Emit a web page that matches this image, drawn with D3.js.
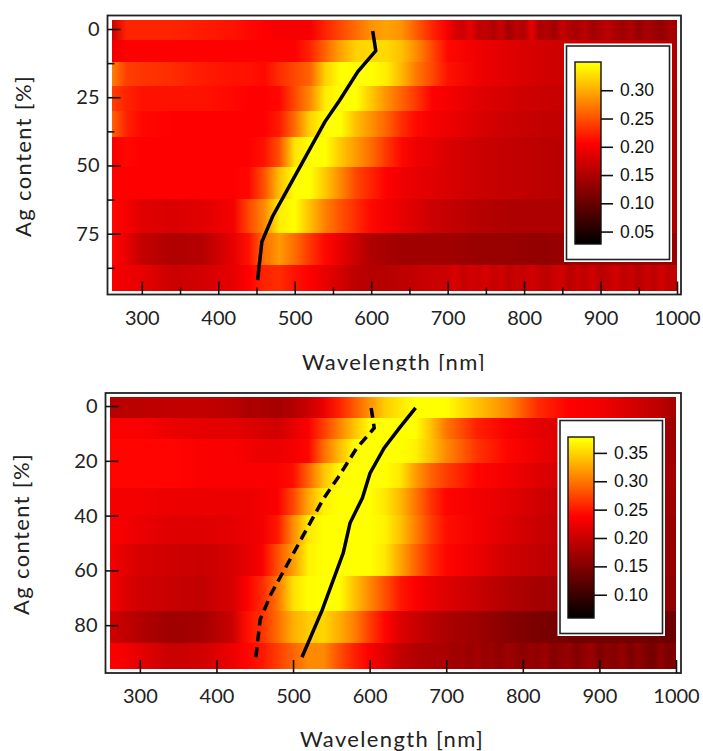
<!DOCTYPE html>
<html><head><meta charset="utf-8">
<script src="https://cdn.jsdelivr.net/npm/d3@7/dist/d3.min.js"></script>
<style>html,body{margin:0;padding:0;background:#fff}svg{display:block}</style>
</head><body><svg id="c" width="703" height="751"></svg>
<script>
const wavelengths=[261,280,300,340,380,420,440,460,480,500,520,540,560,580,600,620,640,660,680,700,740,780,820,860,900,940,980,1000];
const rowEdges=[-3.3,4.2,12.2,20.9,30,39.7,50.5,62.2,74.8,86.5,96];
const stripeWaves=[700,710,720,730,740,750,760,770,780,790,800,810,820,830,840,850,860,870,880,890,900,910,920,930,940,950,960,970,980,990,1000];

const topRows=[
[.17,.225,.225,.225,.22,.215,.21,.205,.2,.2,.2,.225,.245,.265,.285,.295,.285,.255,.225,.205,.175,.155,.15,.145,.145,.14,.135,.14],
[.195,.205,.205,.205,.205,.205,.205,.205,.205,.205,.225,.26,.295,.32,.325,.325,.31,.28,.245,.21,.195,.185,.175,.17,.165,.16,.155,.15],
[.275,.24,.235,.23,.22,.215,.215,.21,.23,.245,.26,.32,.345,.35,.345,.335,.305,.27,.245,.215,.195,.185,.175,.17,.165,.16,.155,.15],
[.24,.225,.215,.215,.215,.21,.206,.206,.21,.245,.28,.335,.345,.345,.315,.285,.26,.235,.206,.2,.185,.175,.17,.165,.16,.155,.15,.15],
[.26,.225,.21,.206,.206,.206,.206,.206,.22,.265,.32,.345,.345,.31,.285,.26,.23,.21,.2,.195,.18,.17,.165,.16,.155,.15,.15,.15],
[.2,.21,.206,.206,.206,.206,.206,.215,.25,.33,.345,.345,.315,.29,.265,.235,.21,.195,.19,.18,.17,.165,.16,.155,.15,.15,.15,.15],
[.205,.205,.205,.205,.205,.206,.21,.25,.31,.345,.345,.315,.28,.245,.225,.206,.195,.19,.185,.18,.17,.165,.16,.155,.15,.15,.15,.15],
[.21,.2,.185,.18,.185,.2,.245,.28,.335,.345,.31,.275,.25,.23,.21,.2,.19,.18,.17,.165,.155,.15,.15,.15,.15,.15,.15,.15],
[.21,.19,.165,.15,.155,.19,.215,.265,.29,.265,.235,.21,.19,.17,.15,.145,.14,.14,.14,.14,.135,.135,.13,.135,.135,.135,.135,.135],
[.2,.195,.19,.17,.175,.19,.205,.225,.23,.215,.205,.19,.175,.16,.155,.155,.16,.165,.17,.17,.17,.165,.165,.16,.16,.16,.16,.16]
];
const topStripeRow0=[.2,.18,.17,.19,.16,.165,.15,.17,.14,.16,.15,.19,.145,.155,.14,.165,.15,.145,.16,.14,.15,.16,.145,.14,.15,.13,.145,.14,.13,.145,.14];
const topStripeRow9=[.17,.18,.165,.175,.17,.18,.165,.175,.16,.17,.165,.175,.165,.16,.17,.175,.155,.17,.16,.175,.155,.165,.175,.16,.17,.155,.17,.16,.175,.16,.165];

const bottomRows=[
[.185,.19,.19,.195,.195,.19,.18,.18,.175,.185,.2,.225,.255,.285,.315,.345,.36,.372,.372,.372,.34,.31,.26,.238,.23,.21,.19,.175],
[.235,.235,.235,.225,.22,.22,.215,.21,.205,.22,.235,.27,.305,.34,.37,.38,.38,.375,.34,.30,.255,.235,.22,.21,.2,.19,.175,.17],
[.24,.24,.24,.24,.235,.235,.23,.225,.225,.23,.24,.295,.335,.37,.38,.38,.375,.365,.34,.31,.265,.24,.225,.21,.2,.19,.18,.17],
[.24,.24,.24,.24,.235,.235,.235,.235,.235,.245,.29,.34,.37,.38,.38,.375,.36,.32,.29,.27,.24,.23,.215,.205,.195,.185,.175,.175],
[.23,.23,.23,.225,.225,.225,.225,.23,.235,.275,.325,.365,.38,.38,.375,.36,.335,.30,.265,.24,.23,.22,.205,.195,.185,.18,.17,.17],
[.235,.23,.225,.215,.215,.22,.225,.23,.25,.31,.36,.38,.38,.38,.375,.365,.34,.305,.27,.245,.23,.215,.2,.19,.18,.175,.165,.165],
[.23,.22,.21,.205,.2,.21,.22,.235,.28,.32,.365,.38,.38,.38,.375,.36,.325,.29,.26,.24,.225,.205,.195,.185,.175,.17,.165,.165],
[.23,.215,.205,.2,.195,.21,.235,.26,.30,.355,.38,.38,.375,.34,.31,.28,.25,.235,.225,.215,.2,.185,.175,.17,.165,.16,.16,.16],
[.205,.195,.185,.17,.175,.2,.245,.265,.295,.33,.345,.35,.33,.305,.27,.24,.215,.2,.19,.18,.17,.155,.145,.14,.14,.14,.135,.135],
[.235,.23,.22,.2,.205,.225,.24,.25,.27,.29,.31,.31,.28,.255,.235,.215,.195,.185,.18,.175,.17,.165,.16,.155,.15,.15,.15,.15]
];
const bottomStripeRow9=[.18,.17,.175,.165,.175,.165,.17,.16,.17,.165,.155,.165,.16,.17,.15,.16,.165,.15,.16,.17,.145,.16,.15,.165,.145,.16,.15,.14,.16,.145,.15];

const topRidge=[[602,.7],[606,8],[582.6,15.6],[559,26],[539.4,34],[500,54],[471,68.7],[457,78],[451.4,92]];
const bottomRidge=[[660,.7],[639,8],[619,15.3],[600.5,24.5],[590.5,33.6],[574.4,42.7],[565.6,53.6],[538,74.5],[511.6,91.7]];

const xTicks=[300,400,500,600,700,800,900,1000];
const xMinor=[350,450,550,650,750,850,950];
const topYTicks=[0,25,50,75], topYMinor=[12.5,37.5,62.5,87.5];
const bottomYTicks=[0,20,40,60,80];
const topBarTicks=[.05,.10,.15,.20,.25,.30];
const bottomBarTicks=[.10,.15,.20,.25,.30,.35];

const svg=d3.select('#c');
const defs=svg.append('defs');
const AX='Lato, "Open Sans", sans-serif';
const LEG='"Liberation Sans", Arial, sans-serif';
const INK='#111';

function panel(o){
  const g=svg.append('g');
  const x=d3.scaleLinear().domain([261,1000]).range([o.px0,o.px1]);
  const y=d3.scaleLinear().domain([-3.3,96]).range([o.py0,o.py1]);
  const color=d3.scaleLinear().domain(o.cmap).range(['#000','#f00','#ff0']).clamp(true);
  g.append('rect').attr('x',o.fx0).attr('y',o.fy0).attr('width',o.fx1-o.fx0).attr('height',o.fy1-o.fy0).attr('fill','#fff');
  o.rows.forEach((row,i)=>{
    let pts=wavelengths.map((w,k)=>[w,row[k]]);
    if(o.stripes[i]) pts=pts.filter(p=>p[0]<700).concat(stripeWaves.map((w,k)=>[w,o.stripes[i][k]]));
    const id=o.id+'r'+i;
    const gr=defs.append('linearGradient').attr('id',id).attr('gradientUnits','userSpaceOnUse')
      .attr('x1',x(261)).attr('x2',x(1000)).attr('y1',0).attr('y2',0);
    gr.selectAll('stop').data(pts).join('stop')
      .attr('offset',d=>(d[0]-261)/739).attr('stop-color',d=>color(d[1]));
    const y0=Math.round(y(rowEdges[i])), y1=Math.round(y(rowEdges[i+1]));
    g.append('rect').attr('x',x(261)).attr('width',x(1000)-x(261))
      .attr('y',y0).attr('height',y1-y0).attr('shape-rendering','crispEdges')
      .attr('fill',`url(#${id})`);
  });
  const line=d3.line().x(d=>x(d[0])).y(d=>y(d[1]));
  o.ridges.forEach(r=>{
    g.append('path').attr('d',line(r.data)).attr('fill','none').attr('stroke','#000')
      .attr('stroke-width',3.5).attr('stroke-dasharray',r.dash||null);
  });
  g.append('rect').attr('x',o.fx0).attr('y',o.fy0).attr('width',o.fx1-o.fx0).attr('height',o.fy1-o.fy0)
    .attr('fill','none').attr('stroke','#222').attr('stroke-width',1.8);
  const ax=g.append('g').attr('transform',`translate(0,${o.fy1})`).call(d3.axisBottom(x).tickValues(xTicks).tickFormat(d3.format('d')).tickSize(-13).tickPadding(16));
  ax.select('.domain').remove();
  ax.selectAll('line').attr('stroke',INK).attr('stroke-width',1.6);
  ax.selectAll('text').attr('font-family',AX).attr('font-size',o.tickFont).attr('fill','#222').attr('dy','0.72em');
  if(o.xMinor){
    const am=g.append('g').attr('transform',`translate(0,${o.fy1})`).call(d3.axisBottom(x).tickValues(o.xMinor).tickFormat('').tickSize(-7));
    am.select('.domain').remove(); am.selectAll('line').attr('stroke',INK).attr('stroke-width',1.6);
  }
  const ay=g.append('g').attr('transform',`translate(${o.fx0},0)`).call(d3.axisLeft(y).tickValues(o.yTicks).tickFormat(d3.format('d')).tickSize(-13).tickPadding(8));
  ay.select('.domain').remove();
  ay.selectAll('line').attr('stroke',INK).attr('stroke-width',1.6);
  ay.selectAll('text').attr('font-family',AX).attr('font-size',o.tickFont).attr('fill','#222').attr('text-anchor','end');
  if(o.yMinor){
    const am=g.append('g').attr('transform',`translate(${o.fx0},0)`).call(d3.axisLeft(y).tickValues(o.yMinor).tickFormat('').tickSize(-7));
    am.select('.domain').remove(); am.selectAll('line').attr('stroke',INK).attr('stroke-width',1.6);
  }
  const clipId=o.id+'clip';
  defs.append('clipPath').attr('id',clipId).append('rect').attr('x',0).attr('y',o.titleY-30).attr('width',703).attr('height',30+o.titleClip);
  g.append('text').attr('x',o.titleX).attr('y',o.titleY).attr('text-anchor','middle')
    .attr('clip-path',`url(#${clipId})`)
    .attr('font-family',AX).attr('font-size',22).attr('letter-spacing',1.35).attr('fill','#222').text('Wavelength [nm]');
  g.append('text').attr('transform',`translate(${o.yTitleX},${o.yTitleY}) rotate(-90)`).attr('text-anchor','middle')
    .attr('font-family',AX).attr('font-size',22).attr('letter-spacing',1.35).attr('fill','#222').text('Ag content [%]');
  const L=o.legend;
  g.append('rect').attr('x',L.x0).attr('y',L.y0).attr('width',L.x1-L.x0).attr('height',L.y1-L.y0).attr('fill','#fff');
  g.append('rect').attr('x',L.x0+2.5).attr('y',L.y0+2.5).attr('width',L.x1-L.x0-5).attr('height',L.y1-L.y0-5)
    .attr('fill','#fff').attr('stroke','#222').attr('stroke-width',1.6);
  const by=d3.scaleLinear().domain(L.domain).range([L.by1,L.by0]);
  const bg=defs.append('linearGradient').attr('id',o.id+'bar').attr('x1',0).attr('x2',0).attr('y1',1).attr('y2',0);
  bg.selectAll('stop').data(o.cmap).join('stop')
    .attr('offset',d=>(d-L.domain[0])/(L.domain[1]-L.domain[0])).attr('stop-color',d=>color(d));
  g.append('rect').attr('x',L.bx0).attr('y',L.by0).attr('width',L.bx1-L.bx0).attr('height',L.by1-L.by0)
    .attr('fill',`url(#${o.id}bar)`).attr('stroke','#111').attr('stroke-width',1.4);
  const al=g.append('g').attr('transform',`translate(${L.bx1},0)`).call(d3.axisRight(by).tickValues(L.ticks).tickFormat(d3.format('.2f')).tickSize(L.tick).tickPadding(7));
  al.select('.domain').remove();
  al.selectAll('line').attr('stroke',INK).attr('stroke-width',1.6);
  al.selectAll('text').attr('font-family',LEG).attr('font-size',17.5).attr('fill','#111');
}

panel({id:'t',rows:topRows,stripes:{0:topStripeRow0,9:topStripeRow9},
  px0:112,px1:677,py0:20,py1:291,fx0:107.5,fx1:681,fy0:15.5,fy1:294.5,
  cmap:[.028,.206,.345],xMinor:xMinor,yTicks:topYTicks,yMinor:topYMinor,tickFont:20,
  ridges:[{data:topRidge}],titleX:394,titleY:370,titleClip:1,yTitleX:31,yTitleY:156,
  legend:{x0:564,x1:672,y0:43.5,y1:262,bx0:575,bx1:601,by0:62,by1:244,domain:[.028,.35],ticks:topBarTicks,tick:12}});
panel({id:'b',rows:bottomRows,stripes:{9:bottomStripeRow9},
  px0:110,px1:676,py0:397,py1:669,fx0:105.5,fx1:681,fy0:393,fy1:673,
  cmap:[.059,.238,.372],xMinor:null,yTicks:bottomYTicks,yMinor:null,tickFont:20,
  ridges:[{data:topRidge,dash:'10 6'},{data:bottomRidge}],titleX:392,titleY:747,titleClip:4,yTitleX:29,yTitleY:534,
  legend:{x0:557.5,x1:665,y0:418,y1:636,bx0:568,bx1:594,by0:437,by1:618,domain:[.059,.378],ticks:bottomBarTicks,tick:13}});
</script></body></html>
